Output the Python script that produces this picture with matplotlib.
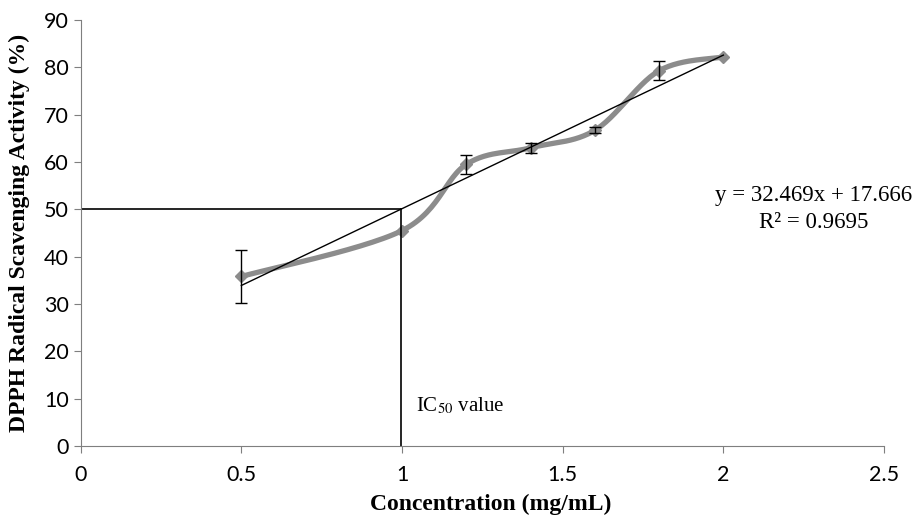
import numpy as np
import matplotlib
matplotlib.use('Agg')
import matplotlib.pyplot as plt

conc = np.array([0.5, 1.0, 1.2, 1.4, 1.6, 1.8, 2.0])
activity = np.array([35.8, 45.5, 59.5, 63.0, 66.7, 79.3, 82.2])
err = np.array([5.6, 0.0, 2.0, 1.0, 0.6, 2.0, 0.0])
slope, intercept = 32.469, 17.666
r2 = 0.9695
ic50 = (50 - intercept) / slope

def smooth_curve(x, y, n=30):
    # catmull-rom style smoothing, like Excel's "smoothed line"
    px = np.concatenate([[x[0]], x, [x[-1]]])
    py = np.concatenate([[y[0]], y, [y[-1]]])
    xs, ys = [], []
    t = np.linspace(0, 1, n)
    for i in range(1, len(px) - 2):
        p0, p1, p2, p3 = [np.array([px[j], py[j]]) for j in (i-1, i, i+1, i+2)]
        c1 = p1 + (p2 - p0) / 6
        c2 = p2 - (p3 - p1) / 6
        b = ((1-t)**3)[:, None]*p1 + (3*(1-t)**2*t)[:, None]*c1 + (3*(1-t)*t**2)[:, None]*c2 + (t**3)[:, None]*p2
        xs.append(b[:, 0]); ys.append(b[:, 1])
    return np.concatenate(xs), np.concatenate(ys)

plt.rcParams['mathtext.fontset'] = 'stix'
fig = plt.figure(figsize=(9.17, 5.16), dpi=100)
ax = fig.add_axes([0.088, 0.136, 0.876, 0.825])

sx, sy = smooth_curve(conc, activity)
ax.plot(sx, sy, color='#8c8c8c', lw=3.8, solid_capstyle='round', zorder=2)
ax.plot(conc, activity, 'D', color='#8c8c8c', ms=6, zorder=2)
ax.errorbar(conc[err > 0], activity[err > 0], yerr=err[err > 0], fmt='none',
            ecolor='black', elinewidth=1, capsize=4, capthick=1, zorder=3)

xt = np.array([0.5, 2.0])
ax.plot(xt, slope * xt + intercept, color='black', lw=1, zorder=4)

ax.plot([0, ic50], [50, 50], color='black', lw=1.2)
ax.plot([ic50, ic50], [0, 50], color='black', lw=1.2)

ax.text(1.045, 8.5, 'IC$_{50}$ value', family='Liberation Serif', fontsize=15, va='center')
ax.text(2.28, 53.0, 'y = 32.469x + 17.666', family='Liberation Serif', fontsize=16.5,
        ha='center', va='center', clip_on=False)
ax.text(2.28, 47.3, 'R² = %.4f' % r2, family='Liberation Serif', fontsize=16.5,
        ha='center', va='center', clip_on=False)

ax.set_xlim(0, 2.5)
ax.set_ylim(0, 90)
ax.set_xticks([0, 0.5, 1, 1.5, 2, 2.5])
ax.set_xticklabels(['0', '0.5', '1', '1.5', '2', '2.5'])
ax.set_yticks(np.arange(0, 91, 10))
for lab in ax.get_xticklabels() + ax.get_yticklabels():
    lab.set_family('Lato')
    lab.set_fontsize(15.5)
ax.spines['top'].set_visible(False)
ax.spines['right'].set_visible(False)
ax.spines['left'].set_color('#7f7f7f')
ax.spines['bottom'].set_color('#7f7f7f')
ax.tick_params(axis='both', color='#7f7f7f', length=5, direction='out')
ax.tick_params(axis='x', pad=9)
ax.set_xlabel('Concentration (mg/mL)', family='Liberation Serif', fontweight='bold', fontsize=17)
ax.set_ylabel('DPPH Radical Scavenging Activity (%)', family='Liberation Serif', fontweight='bold', fontsize=17)
ax.xaxis.set_label_coords(0.51, -0.138)
ax.yaxis.set_label_coords(-0.076, 0.5)
ax.xaxis.label.set_va('center')
ax.yaxis.label.set_va('center')

fig.savefig('out.png', dpi=100)
